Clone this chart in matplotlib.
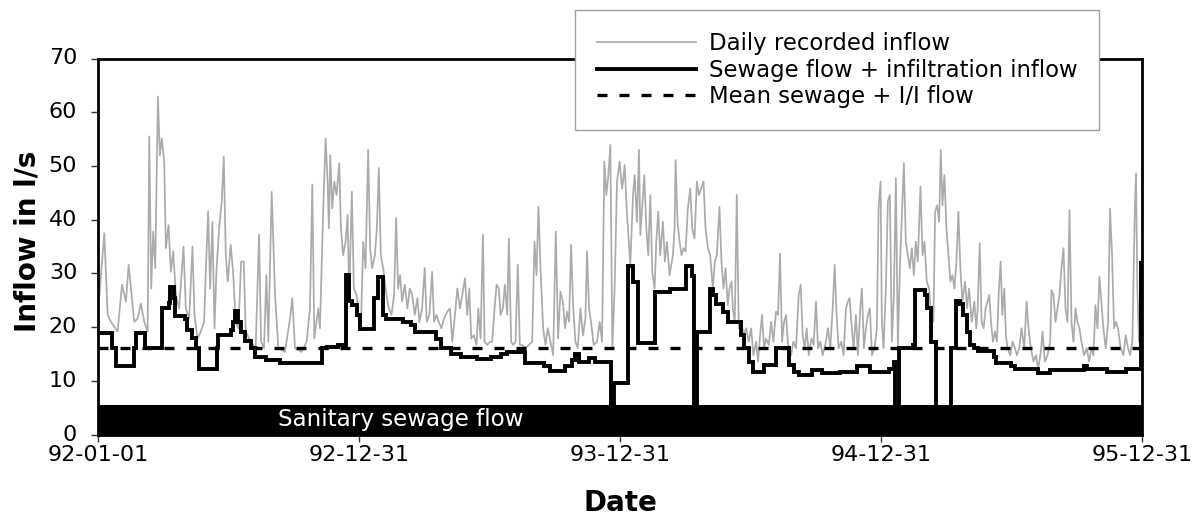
import matplotlib
matplotlib.use("Agg")
import matplotlib.pyplot as plt
from matplotlib.lines import Line2D

# ---------------- data (days since 92-01-01, flow in l/s) ----------------
inflow_days = [
    2, 8.8, 13.5, 18.1, 27.5, 33.5, 39.1, 42.8, 46.1, 50.7, 55.4, 60.0, 64.7, 69.4, 71.7, 74.4, 77.2, 80.0,
    83.8, 86.5, 89.3, 92.6, 94.9, 98.6, 101.9, 105.2, 108.9, 113.5, 119.6, 122.8, 127.5, 132.1, 134.9, 139.1,
    143.8, 148.4, 150.7, 154.0, 156.8, 160.0, 162.9, 165.6, 169.4, 173.1, 175.9, 178.7, 181.5, 185.6, 188.9,
    192.6, 196.4, 200.1, 203.8, 206.6, 213.6, 220.5, 225.2, 228.0, 232.2, 235.4, 238.2,
    242.9, 247.6, 252.2, 261.5, 268.5, 271.7, 275.5, 284.8, 291.8, 296.4, 299.7, 302.5, 308.0, 310.4, 315.0,
    318.3, 321.1, 322.9, 324.8, 327.6, 330.4, 333.6, 337.4, 339.7, 342.9, 346.2, 349.0, 351.3, 355.0, 357.8,
    361.6, 364.8, 367.6, 370.9, 374.1, 377.8, 380.6, 383.4, 387.2, 390.0, 392.7, 395.5, 398.8, 403.4, 406.7,
    410.4, 414.1, 416.9, 419.7, 422.5, 425.3, 429.0, 432.7, 436.0, 439.3, 443.0, 446.7, 449.5, 453.2, 456.9,
    459.7, 463.5, 467.2, 470.0, 473.2, 476.5, 480.2, 483.9,
    488.5, 492.2, 495.5, 498.7, 502.5, 506.2, 509.4, 513.2, 516.4, 519.2, 522.0, 525.7, 529.4, 531.8, 535.0,
    538.3, 540.6, 544.3, 548.1, 551.3, 554.6, 557.4, 560.6, 563.0, 566.2, 569.0, 572.3, 574.6, 577.8, 580.6,
    583.9, 587.1, 589.9, 593.2, 597.8, 602.5, 607.2, 610.4, 613.2, 616.0, 618.8, 622.5, 625.8, 629.0, 632.7,
    636.5, 640.2, 643.4, 646.7, 650.0, 653.2, 656.0, 658.8, 661.6, 664.4, 667.6, 670.9, 674.6, 678.3, 681.6,
    683.9, 686.7, 689.5, 693.2, 697.9, 701.6, 704.9, 708.1, 710.9, 713.7, 716.5, 719.3, 722.5, 725.8, 729.5,
    732.8,
    734.2, 736.5, 739.8, 742.6, 744.4, 748.2, 750.5, 753.7, 756.5, 758.4, 761.2, 764.0, 766.8, 769.6, 772.4,
    775.1, 778.4, 780.7, 783.5, 786.3, 790.0, 792.8, 795.6, 799.3, 804.0, 806.3, 807.7, 810.5, 813.3, 816.1,
    818.9, 821.7, 824.9, 828.2, 831.0, 834.2, 837.5, 840.3, 843.5, 846.8, 849.6, 852.9, 856.1, 859.8, 862.6,
    865.4, 869.1, 871.9, 874.7, 877.5, 880.8, 883.1, 885.9, 887.8, 890.5, 893.3, 896.1, 899.8, 902.6, 906.4,
    910.1, 913.3, 916.6, 920.3, 923.1, 925.9, 928.7, 931.5, 934.3, 938.0, 941.3, 944.5, 948.2, 951.0, 953.8,
    956.6, 959.4, 962.2, 965.0, 969.2, 972.4, 976.2, 979.9,
    982.7, 985.5, 988.3, 991.1, 993.9, 997.6, 1000.8, 1004.1, 1006.9, 1010.1, 1013.4, 1017.1, 1020.8, 1024.1,
    1027.4, 1030.2, 1032.9, 1035.7, 1039.5, 1042.7, 1046.0, 1048.8, 1051.1, 1053.4, 1056.7, 1059.9, 1062.7,
    1066.0, 1068.3, 1071.1, 1073.9, 1076.7, 1079.5, 1082.3, 1086.0, 1089.2, 1091.6, 1094.4, 1096.2, 1098.5,
    1101.8, 1104.6, 1107.4, 1110.2, 1113.0, 1115.8, 1118.6, 1121.4, 1124.2, 1127.0, 1129.7, 1132.5, 1135.3,
    1138.1, 1140.9, 1143.7, 1146.5, 1150.2, 1153.0, 1155.8, 1159.0, 1162.3, 1165.1, 1168.3, 1170.7, 1173.5,
    1176.3, 1178.6, 1180.9, 1183.7, 1186.5, 1189.3, 1192.1, 1194.9, 1197.7, 1200.5, 1203.2, 1206.0, 1208.8,
    1212.6, 1215.3, 1218.1, 1221.9,
    1225.5, 1228.3, 1230.2, 1233.0, 1235.7, 1238.5, 1241.3, 1244.1, 1246.4, 1248.8, 1251.6, 1254.3, 1257.1,
    1259.9, 1262.3, 1264.6, 1267.4, 1269.7, 1272.0, 1275.8, 1279.0, 1282.3, 1285.1, 1288.3, 1291.6, 1295.3,
    1298.6, 1301.3, 1304.6, 1308.3, 1311.6, 1314.8, 1318.6, 1320.9, 1324.1, 1327.9, 1331.6, 1333.5, 1336.2,
    1339.0, 1341.8, 1344.6, 1347.4, 1350.2, 1353.0, 1355.8, 1358.6, 1361.4, 1364.2, 1367.0, 1369.7, 1372.5,
    1375.3, 1379.0, 1382.8, 1386.0, 1389.3, 1392.1, 1394.9, 1397.7, 1400.5, 1403.2, 1406.0, 1409.3, 1412.6,
    1415.3, 1418.1, 1420.9, 1423.7, 1426.5, 1430.2, 1434.0, 1437.2, 1440.5, 1443.3, 1446.5, 1449.8, 1451.6,
    1453.5, 1455.8, 1458.2,
]
inflow_values = [
    26.0, 37.5, 22.3, 21.0, 19.2, 27.9, 24.8, 31.6, 27.2, 21.0, 21.6, 24.4, 21.0, 19.2, 55.5, 27.2, 37.8, 31.0,
    62.9, 52.0, 55.1, 50.8, 34.7, 39.0, 30.3, 34.1, 26.0, 23.5, 35.0, 23.5, 21.6, 35.0, 22.3, 17.9,
    19.2, 21.0, 30.3, 41.5, 27.2, 39.6, 19.8, 30.3, 38.4, 43.4, 51.7, 33.4, 28.5, 35.3, 30.3,
    21.0, 19.8, 32.2, 32.2, 19.2, 17.3, 16.1, 37.2, 17.3, 16.1, 29.7, 17.3,
    45.2, 26.0, 16.1, 15.4, 21.6, 25.4, 16.1, 15.4, 17.3, 23.5, 46.5, 17.9, 23.5, 19.8, 42.1,
    55.1, 47.1, 38.4, 52.0, 42.1, 47.1, 44.6, 50.5, 38.4, 33.4, 35.9, 40.9, 26.0, 45.2, 27.2,
    26.0, 21.0, 19.8, 35.9, 31.0, 53.0, 34.7, 31.0, 33.4, 38.4, 49.6, 33.4, 31.0, 26.0, 23.5,
    22.3, 26.0, 40.3, 27.2, 29.7, 24.8, 27.9, 23.5, 27.2, 26.0, 22.3, 25.4, 21.0, 23.5, 31.0,
    21.0, 22.3, 30.3, 21.0, 22.3, 21.0, 19.8, 21.6,
    22.9, 23.5, 17.3, 21.6, 27.2, 23.5, 26.0, 29.1, 22.3, 27.2, 17.9, 18.5, 16.7, 23.5, 17.9,
    37.2, 17.3, 16.7, 17.3, 17.3, 23.5, 27.9, 27.2, 22.3, 23.5, 27.9, 22.3, 36.5, 17.3, 16.7,
    17.3, 31.6, 16.7, 16.7, 16.1, 16.7, 17.3, 35.9, 29.7, 42.4, 31.0, 19.8, 16.7, 19.8, 17.3,
    14.8, 37.8, 17.9, 26.6, 24.8, 19.8, 22.9, 21.0, 35.3, 24.1, 17.3, 16.1, 23.5, 18.5, 21.6,
    34.1, 23.5, 21.0, 16.7, 17.3, 21.0, 17.3, 50.8, 44.6, 48.3, 53.9, 16.1, 27.2, 47.1, 50.8,
    45.8,
    47.1, 50.2, 40.9, 35.3, 31.6, 44.6, 48.3, 39.6, 53.0, 37.2, 42.7, 48.3, 38.4, 33.4, 44.6,
    30.3, 27.2, 35.9, 41.5, 33.4, 39.6, 32.2, 35.9, 29.7, 33.4, 38.4, 51.1, 39.6, 35.9, 33.4,
    34.7, 34.1, 42.1, 45.8, 38.4, 36.5, 47.1, 44.6, 45.8, 47.1, 38.4, 34.7, 33.4, 27.2, 32.2,
    33.4, 42.4, 32.2, 27.2, 31.0, 24.1, 27.2, 28.5, 23.5, 21.0, 44.6, 19.8, 21.0, 18.5, 19.8,
    17.3, 19.8, 14.8, 17.3, 13.6, 18.5, 22.3, 16.1, 17.9, 16.7, 21.0, 17.3, 22.9, 22.3, 33.7,
    17.3, 21.0, 22.3, 16.7, 14.8, 17.3, 16.1, 26.0,
    27.9, 18.5, 16.1, 19.8, 14.8, 17.9, 16.7, 24.8, 16.1, 17.3, 14.8, 16.7, 19.8, 16.1,
    23.5, 31.6, 22.3, 16.1, 17.3, 14.8, 23.5, 24.8, 25.4, 21.0, 16.1, 22.3, 14.8,
    23.5, 27.2, 16.1, 19.8, 22.3, 23.5, 14.8, 16.1, 19.8, 42.1, 47.1, 21.0, 16.1,
    27.2, 43.4, 44.6, 17.3, 26.0, 47.7, 16.1, 31.0, 40.9, 50.5, 35.9, 33.4, 31.0,
    34.7, 29.7, 35.9, 32.2, 46.2, 33.4, 35.9, 28.5, 27.2, 22.3, 21.0, 41.5, 42.7,
    39.6, 53.0, 42.7, 48.3, 38.4, 33.4, 28.5, 29.7, 27.2, 32.2, 41.5, 31.0, 24.8,
    28.5, 23.5, 27.2, 21.0,
    24.8, 19.8, 23.5, 35.6, 21.0, 19.8, 23.5, 24.8, 26.0, 21.0, 17.3, 19.2, 17.3,
    27.2, 32.2, 22.3, 27.2, 18.5, 16.1, 14.8, 17.3, 16.1, 14.8, 16.1, 19.8, 16.1,
    24.8, 19.8, 16.1, 13.6, 14.8, 12.3, 15.4, 19.2, 13.6, 14.8, 17.3, 26.9, 26.0,
    21.0, 23.5, 26.0, 31.0, 34.7, 23.5, 21.0, 41.8, 21.0, 17.3, 23.5, 21.0, 19.8,
    17.3, 14.8, 16.1, 13.6, 16.1, 14.8, 24.1, 19.8, 29.4, 24.8, 19.8, 16.1, 21.0,
    42.1, 33.4, 19.8, 21.0, 19.8, 16.1, 14.8, 18.5, 16.1, 14.8, 17.3, 40.9, 48.6,
    27.2, 17.3, 32.2,
]

# sewage flow + infiltration inflow (step changes: value holds from each day onward)
sewage_days = [
    0, 20, 25, 50.7, 53, 66, 90, 99, 101, 106, 108, 121, 125, 131, 137, 141.5, 166, 168.4, 185.6, 189, 192,
    196, 200, 206, 214, 219, 235, 254.5, 312.7, 319.7, 336, 346.2, 350.9, 354.6, 361.6, 366.2, 386.2, 390.9,
    398, 403.4, 426.7, 438.3, 443, 473.2, 480.2, 488.5, 493.2, 507.1, 530.4, 549, 563, 572.3, 597.8, 623.4,
    632.7, 653.7, 663, 667.6, 672.3, 686.3, 695.6, 717.9, 721.5, 741.2, 748.2, 755.1, 778.4, 799.3, 822,
    831, 833.3, 837.5, 856.1, 859.8, 864.5, 873.8, 880.8, 899.4, 904, 911, 915.7, 932, 948.2, 966.9, 973.8,
    979.9, 998.5, 1012.5, 1038.1, 1061.3, 1079.9, 1105.5, 1112.5, 1115, 1120.4, 1140.4, 1142.3, 1156.7,
    1159, 1165.5, 1172, 1193, 1200, 1206, 1210, 1215, 1219.5, 1225.5, 1230, 1253, 1255.8, 1276.5, 1282,
    1314, 1332, 1379, 1383, 1411, 1437, 1458.5, 1460,
]
sewage_values = [
    18.9, 16.1, 12.7, 16.1, 18.9, 16.2, 23.5, 24.5, 27.5, 25.5, 22.0, 21.5, 19.5, 18.0, 16.2, 12.3, 16.2,
    18.5, 19.5, 21.0, 23.0, 21.0, 19.2, 17.5, 16.2, 14.5, 13.9, 13.3, 16.1, 16.4, 16.7, 29.7, 24.8, 24.1,
    22.3, 19.7, 25.4, 29.4, 22.3, 21.6, 21.0, 20.4, 19.2, 17.9, 16.1, 16.1, 15.1, 14.5, 14.1, 14.5, 15.1,
    15.4, 13.3, 12.7, 11.8, 12.7, 13.9, 15.1, 13.6, 14.2, 13.6, 0.0, 9.6, 31.3, 28.5, 17.0, 26.6, 27.2,
    31.3, 29.5, 0.0, 19.2, 27.2, 26.0, 24.4, 22.9, 21.0, 18.5, 16.1, 13.6, 11.7, 13.0, 16.1, 13.0, 11.7,
    11.1, 12.0, 11.4, 11.7, 12.7, 11.7, 12.3, 13.6, 0.0, 16.1, 16.7, 27.0, 26.0, 23.5, 17.3, 0.0, 16.1,
    24.8, 24.4, 22.3, 19.2, 16.7, 16.1, 15.6, 14.5, 13.3, 12.7, 12.3, 11.4, 12.0, 12.7, 12.3, 11.7, 12.3,
    32.0, 32.0,
]

mean_flow = 16.2          # mean sewage + I/I flow
sanitary_flow = 5.5       # sanitary sewage flow band
x_tick_days = [0, 365, 730, 1095, 1460]
x_tick_labels = ["92-01-01", "92-12-31", "93-12-31", "94-12-31", "95-12-31"]
y_ticks = [0, 10, 20, 30, 40, 50, 60, 70]
legend_labels = ["Daily recorded inflow", "Sewage flow + infiltration inflow", "Mean sewage + I/I flow"]

# ---------------- figure ----------------
plt.rcParams['font.family'] = ['DejaVu Sans']
W, H = 1203, 530
fig = plt.figure(figsize=(W / 100, H / 100), dpi=100)
ax = fig.add_axes([98 / W, 1 - 434.7 / H, 1044 / W, 376.2 / H])

gray = '#ababab'
ax.plot(inflow_days, inflow_values, color=gray, lw=1.25, zorder=2)
ax.axhline(mean_flow, color='black', lw=2.4, linestyle=(0, (3.0, 3.6)), zorder=3)
ax.plot(sewage_days, sewage_values, color='black', lw=2.8, drawstyle='steps-post', zorder=4,
        solid_joinstyle='miter')
ax.axhspan(0, sanitary_flow, color='black', lw=0, zorder=5)
ax.text(424, 2.9, "Sanitary sewage flow", color='white', fontsize=16.6, ha='center', va='center', zorder=6)

ax.set_xlim(x_tick_days[0], x_tick_days[-1])
ax.set_ylim(y_ticks[0], y_ticks[-1])
ax.set_xticks(x_tick_days)
ax.set_xticklabels(x_tick_labels)
ax.set_yticks(y_ticks)
ax.tick_params(axis='both', direction='out', width=1, color='#333333', labelsize=16)
ax.tick_params(axis='y', length=5, pad=10)
ax.tick_params(axis='x', length=5, pad=2.5)
for lbl in ax.get_yticklabels():
    lbl.set_verticalalignment('center')
for s in ax.spines.values():
    s.set_linewidth(2.0)
    s.set_color('black')
    s.set_zorder(7)

ax.set_xlabel("Date", fontsize=20, fontweight='bold')
ax.xaxis.set_label_coords(0.5, -0.145)
ax.set_ylabel("Inflow in l/s", fontsize=20, fontweight='bold')
ax.yaxis.set_label_coords(-0.054, 0.513)

handles = [
    Line2D([], [], color=gray, lw=1.25),
    Line2D([], [], color='black', lw=2.8),
    Line2D([], [], color='black', lw=2.4, linestyle=(0, (3.0, 3.6))),
]
leg = fig.legend(handles, legend_labels, loc='upper left', bbox_to_anchor=(575 / W, 1 - 10 / H),
                 borderaxespad=0, fontsize=16.4, frameon=True, fancybox=False, framealpha=1,
                 edgecolor='#a0a0a0', handlelength=4.35, handletextpad=0.57, borderpad=0.95,
                 labelspacing=0.17)
leg.get_frame().set_linewidth(1.0)
leg.set_zorder(10)

fig.savefig("out.png", dpi=100)
